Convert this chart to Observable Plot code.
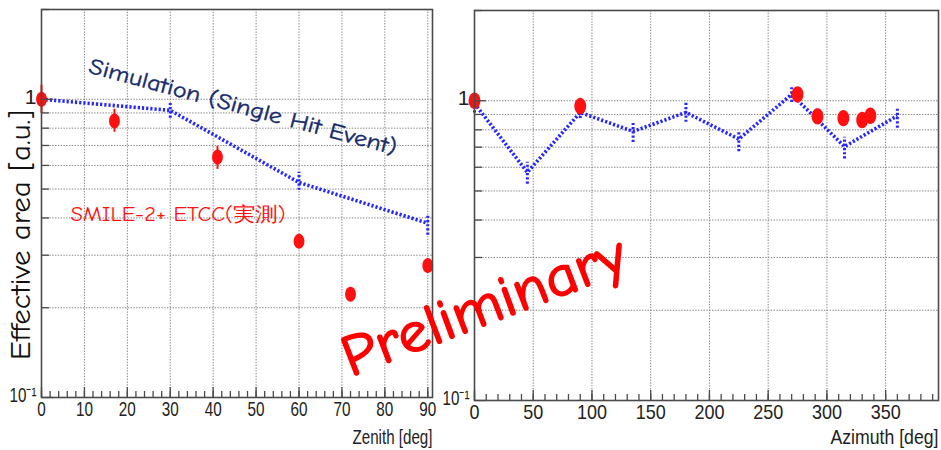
<!DOCTYPE html>
<html><head><meta charset="utf-8">
<script src="https://cdn.jsdelivr.net/npm/d3@7"></script>
<script src="https://cdn.jsdelivr.net/npm/@observablehq/plot@0.6"></script>
<style>
body{margin:0;background:#fff;}
#wrap{position:relative;width:941px;height:450px;overflow:hidden;background:#fff;}
#left{position:absolute;left:0;top:0;}
#right{position:absolute;left:436px;top:0;}
#overlay{position:absolute;left:0;top:0;pointer-events:none;}
</style></head><body>
<div id="wrap"><div id="left"></div><div id="right"></div><svg id="overlay" width="941" height="450"></svg></div>
<script>
// ---------- data ----------
// Zenith panel: simulation (single hit event)
const zenithSimAngle = [0, 30, 60, 90];
const zenithSimArea  = [1.0, 0.918, 0.526, 0.384];
const zenithSimLow   = [0.96, 0.864, 0.495, 0.35];
const zenithSimHigh  = [1.04, 0.977, 0.569, 0.41];
// Zenith panel: SMILE-2+ ETCC measurement
const zenithObsAngle = [0, 17, 41, 60, 72, 90];
const zenithObsArea  = [1.0, 0.846, 0.64, 0.334, 0.222, 0.277];
const zenithObsLow   = [0.897, 0.775, 0.582, null, null, null];
const zenithObsHigh  = [1.114, 0.926, 0.696, null, null, null];
// Azimuth panel: simulation
const azimuthSimAngle = [0, 45, 90, 135, 180, 225, 270, 315, 360];
const azimuthSimArea  = [0.98, 0.577, 0.914, 0.79, 0.914, 0.745, 1.05, 0.703, 0.891];
const azimuthSimLow   = [0.91, 0.527, 0.873, 0.726, 0.847, 0.676, 0.987, 0.639, 0.81];
const azimuthSimHigh  = [1.07, 0.623, 0.943, 0.84, 0.995, 0.79, 1.12, 0.755, 0.95];
// Azimuth panel: measurement
const azimuthObsAngle = [0, 90, 275, 292, 314, 330, 337];
const azimuthObsArea  = [1.0, 0.96, 1.05, 0.887, 0.875, 0.862, 0.891];

// ticks
const yDomain = [0.1, 2];
const yGridValues = [0.2, 0.3, 0.4, 0.5, 0.6, 0.7, 0.8, 0.9, 1];
const yMinorTicks = [0.2, 0.3, 0.4, 0.5, 0.6, 0.7, 0.8, 0.9, 2];
const yMajorTicks = [0.1, 1];
const yTickLabels = {0.1: "10\u207B\u00B9", 1: "1"};
const zenithDomain = [0, 91.1];
const zenithTicks = [0, 10, 20, 30, 40, 50, 60, 70, 80, 90];
const zenithMinorStep = 2;
const azimuthDomain = [0, 395];
const azimuthTicks = [0, 50, 100, 150, 200, 250, 300, 350];
const azimuthMinorStep = 10;

const rows = (xs, ys, lo, hi) => xs.map((x, i) => ({x, y: ys[i], lo: lo ? lo[i] : null, hi: hi ? hi[i] : null}));

const simBlue = "#2626ff";
const obsRed = "#ff1010";
const axisFont = "'Liberation Sans',Arial,Helvetica,sans-serif";

const ellipse = {
  draw(context, size) {
    const r = Math.sqrt(size / Math.PI);
    const rx = r * 0.72, ry = r, n = 28;
    for (let i = 0; i < n; i++) {
      const a = 2 * Math.PI * i / n;
      const px = rx * Math.cos(a), py = ry * Math.sin(a);
      if (i === 0) context.moveTo(px, py); else context.lineTo(px, py);
    }
    context.closePath();
  }
};

function panel({xDomain, xTicks, minorStep, xLabel, labelDy, sim, obs, width, marginLeft, marginRight, marginTop, marginBottom, dotR}) {
  const minor = d3.range(xDomain[0], xDomain[1], minorStep);
  const gridStyle = {stroke: "#858585", strokeOpacity: 1, strokeWidth: 1, strokeDasharray: "1.4,1.4"};
  return Plot.plot({
    width, height: 450, marginLeft, marginRight, marginTop, marginBottom,
    style: {fontFamily: axisFont, background: "white", color: "#222", overflow: "visible"},
    x: {type: "linear", domain: xDomain},
    y: {type: "log", domain: yDomain},
    marks: [
      Plot.gridX(xTicks, gridStyle),
      Plot.gridY(yGridValues, gridStyle),
      Plot.ruleX(sim.filter(d => d.lo != null), {x: "x", y1: "lo", y2: "hi", stroke: simBlue, strokeWidth: 3, strokeDasharray: "2.2,2"}),
      Plot.line(sim, {x: "x", y: "y", stroke: simBlue, strokeWidth: 3.6, strokeDasharray: "2.2,2", strokeLinecap: "butt"}),
      Plot.ruleX(obs.filter(d => d.lo != null), {x: "x", y1: "lo", y2: "hi", stroke: obsRed, strokeWidth: 2}),
      Plot.dot(obs, {x: "x", y: "y", r: dotR, symbol: ellipse, fill: obsRed, stroke: "none"}),
      Plot.frame({stroke: "#4a4a4a", strokeWidth: 1.6}),
      Plot.axisX(xTicks, {tickSize: 10, dy: -10, text: null, label: null, stroke: "#4a4a4a", strokeWidth: 1.3}),
      Plot.axisX(minor, {tickSize: 6, dy: -6, text: null, label: null, stroke: "#4a4a4a", strokeWidth: 1.3}),
      Plot.axisX(xTicks, {tickSize: 0, tickPadding: 4, fontSize: 21, label: null, fill: "#222"}),
      Plot.axisY(yMajorTicks, {tickSize: 12, dx: 12, text: null, label: null, stroke: "#4a4a4a", strokeWidth: 1.3}),
      Plot.axisY(yMinorTicks, {tickSize: 8, dx: 8, text: null, label: null, stroke: "#4a4a4a", strokeWidth: 1.3}),
      Plot.axisY(yMajorTicks, {tickSize: 0, tickPadding: 5, dy: -2, fontSize: 21, label: null, fill: "#222", tickFormat: d => yTickLabels[d]}),
      Plot.text([xLabel], {frameAnchor: "bottom-right", dy: labelDy, textAnchor: "end", lineAnchor: "bottom", fontSize: 20, fill: "#222"})
    ]
  });
}

// narrow the Helvetica-like labels the way the reference shows them
function condense(svg, digitWidth, labelWidth) {
  const s = d3.select(svg);
  s.selectAll('g[aria-label="x-axis tick label"] text').each(function () {
    this.setAttribute("textLength", this.textContent.length * digitWidth);
    this.setAttribute("lengthAdjust", "spacingAndGlyphs");
  });
  s.selectAll('g[aria-label="y-axis tick label"] text').each(function () {
    if (this.textContent.length > 1) {
      this.setAttribute("textLength", 27);
      this.setAttribute("lengthAdjust", "spacingAndGlyphs");
    }
  });
  s.selectAll('g[aria-label="text"] text').each(function () {
    this.setAttribute("textLength", labelWidth);
    this.setAttribute("lengthAdjust", "spacingAndGlyphs");
  });
  return svg;
}

document.getElementById("left").append(condense(panel({
  xDomain: zenithDomain, xTicks: zenithTicks, minorStep: zenithMinorStep, xLabel: "Zenith [deg]", labelDy: 46,
  sim: rows(zenithSimAngle, zenithSimArea, zenithSimLow, zenithSimHigh),
  obs: rows(zenithObsAngle, zenithObsArea, zenithObsLow, zenithObsHigh),
  width: 436, marginLeft: 41, marginRight: 4, marginTop: 9, marginBottom: 53, dotR: 7.5
}), 8.5, 80));
document.getElementById("right").append(condense(panel({
  xDomain: azimuthDomain, xTicks: azimuthTicks, minorStep: azimuthMinorStep, xLabel: "Azimuth [deg]", labelDy: 43,
  sim: rows(azimuthSimAngle, azimuthSimArea, azimuthSimLow, azimuthSimHigh),
  obs: rows(azimuthObsAngle, azimuthObsArea),
  width: 505, marginLeft: 38, marginRight: 3, marginTop: 10, marginBottom: 50, dotR: 8.2
}), 10, 108));

// ---------- annotations ----------
const ov = d3.select("#overlay");
const handFont = "'Comic Sans MS','Comic Neue','DejaVu Sans',sans-serif";
function note(text, x, y, angle, size, color, len, stroke) {
  const t = ov.append("text")
    .attr("transform", `translate(${x},${y}) rotate(${angle})`)
    .attr("text-anchor", "middle").attr("dominant-baseline", "central")
    .attr("font-family", handFont).attr("font-size", size).attr("fill", color)
    .text(text);
  if (len) t.attr("textLength", len).attr("lengthAdjust", "spacingAndGlyphs");
  if (stroke) t.attr("stroke", color).attr("stroke-width", stroke);
}
note("Effective area [a.u.]", 21, 235, -90, 28, "#111", 250);
note("Simulation (Single Hit Event)", 243, 107, 15, 22, "#15296b", 318, 0.4);
note("SMILE-2+ ETCC(実測)", 178, 214, 0, 20, obsRed, 215);
note("Preliminary", 484, 306, -21, 58, "#ff0000", 300, 1.6);
</script>
</body></html>
